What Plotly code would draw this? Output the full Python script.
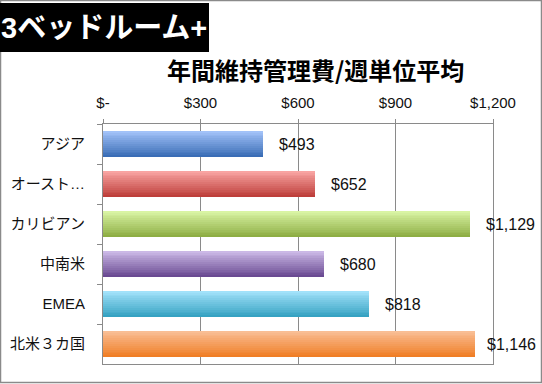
import plotly.graph_objects as go

categories = ["アジア", "オースト…", "カリビアン", "中南米", "EMEA", "北米３カ国"]
values = [493, 652, 1129, 680, 818, 1146]
value_labels = ["$493", "$652", "$1,129", "$680", "$818", "$1,146"]
tick_vals = [0, 300, 600, 900, 1200]
tick_text = ["$-", "$300", "$600", "$900", "$1,200"]
title_text = "年間維持管理費/週単位平均"
badge_text = "3ベッドルーム+"

top_colors = ["#a2c2f8", "#f8a4a2", "#d9f4a4", "#cbb8e6", "#a2e2fa", "#f9be94"]
bottom_colors = ["#3a6db6", "#be3e3a", "#8eae44", "#6a4a92", "#36a2c2", "#f07e26"]

W, H = 542, 384
ML, MR, MT, MB = 103, 49, 124, 20
PW, PH = W - ML - MR, H - MT - MB
XMAX = 1200
FONT = "Liberation Sans, Noto Sans CJK JP, sans-serif"
CJK = "Noto Sans CJK JP, sans-serif"


def hex2rgb(h):
    h = h.lstrip("#")
    return tuple(int(h[i:i + 2], 16) for i in (0, 2, 4))


def mix(c1, c2, t):
    a, b = hex2rgb(c1), hex2rgb(c2)
    return "rgb(%d,%d,%d)" % tuple(round(a[i] + (b[i] - a[i]) * t) for i in range(3))


fig = go.Figure()
N = 14
BAR = 0.66
band = BAR / N
for k in range(N):
    t = k / (N - 1)
    fig.add_trace(go.Bar(
        y=categories, x=values, orientation="h",
        marker=dict(color=[mix(top_colors[i], bottom_colors[i], t) for i in range(len(values))],
                    line=dict(width=0)),
        width=band * 1.08, offset=-BAR / 2 + k * band,
        hoverinfo="skip", showlegend=False,
    ))

# data labels
for cat, v, lab in zip(categories, values, value_labels):
    end_px = v / XMAX * PW
    label_w = 8.6 * len(lab)
    shift = 14
    limit = W - 5 - ML
    if end_px + shift + label_w > limit:
        shift = max(3, limit - end_px - label_w)
    fig.add_annotation(x=v, y=cat, text=lab, showarrow=False, xanchor="left",
                       xshift=shift, font=dict(size=16, color="#111", family=FONT))


def px2x(px):
    return (px - ML) / PW


def py2y(py):
    return (H - py - MB) / PH


shapes = [
    dict(type="rect", xref="paper", yref="paper", x0=px2x(0.5), x1=px2x(W - 0.5),
         y0=py2y(H - 1.5), y1=py2y(0.5), line=dict(color="#8a8a8a", width=1.5), layer="below"),
    dict(type="rect", xref="paper", yref="paper", x0=px2x(0), x1=px2x(209),
         y0=py2y(52), y1=py2y(3), fillcolor="black", line=dict(width=0)),
]

fig.add_annotation(xref="paper", yref="paper", x=px2x(104), y=py2y(27.5), text="<b>" + badge_text + "</b>",
                   showarrow=False, xanchor="center", yanchor="middle",
                   font=dict(size=29, color="white", family=FONT))
fig.add_annotation(xref="paper", yref="paper", x=px2x(315), y=py2y(70), text="<b>" + title_text + "</b>",
                   showarrow=False, xanchor="center", yanchor="middle",
                   font=dict(size=24, color="black", family=CJK))

fig.update_layout(
    width=W, height=H,
    margin=dict(l=ML, r=MR, t=MT, b=MB, pad=0),
    paper_bgcolor="white", plot_bgcolor="white",
    barmode="overlay", bargap=0,
    font=dict(family=FONT, size=14, color="#111"),
    shapes=shapes,
    xaxis=dict(side="top", range=[0, XMAX], tickvals=tick_vals, ticktext=tick_text,
               showgrid=True, gridcolor="#8a8a8a", gridwidth=1,
               showline=True, linecolor="#8a8a8a", linewidth=1, mirror=True,
               ticks="outside", ticklen=4, tickcolor="#8a8a8a",
               tickfont=dict(size=15, family=FONT, color="#111"),
               ticklabelstandoff=5, zeroline=False, fixedrange=True, automargin=False),
    yaxis=dict(categoryorder="array", categoryarray=categories, autorange="reversed",
               showline=True, linecolor="#8a8a8a", linewidth=1, mirror=True,
               ticks="outside", ticklen=5, tickcolor="#8a8a8a", tickson="boundaries",
               tickfont=dict(size=15, family=FONT, color="#111"),
               ticklabelstandoff=14, showgrid=False, fixedrange=True, automargin=False),
)

fig.write_html("out.html", config={"displayModeBar": False},
               post_script="document.body.style.margin='0';document.body.style.overflow='hidden';")
